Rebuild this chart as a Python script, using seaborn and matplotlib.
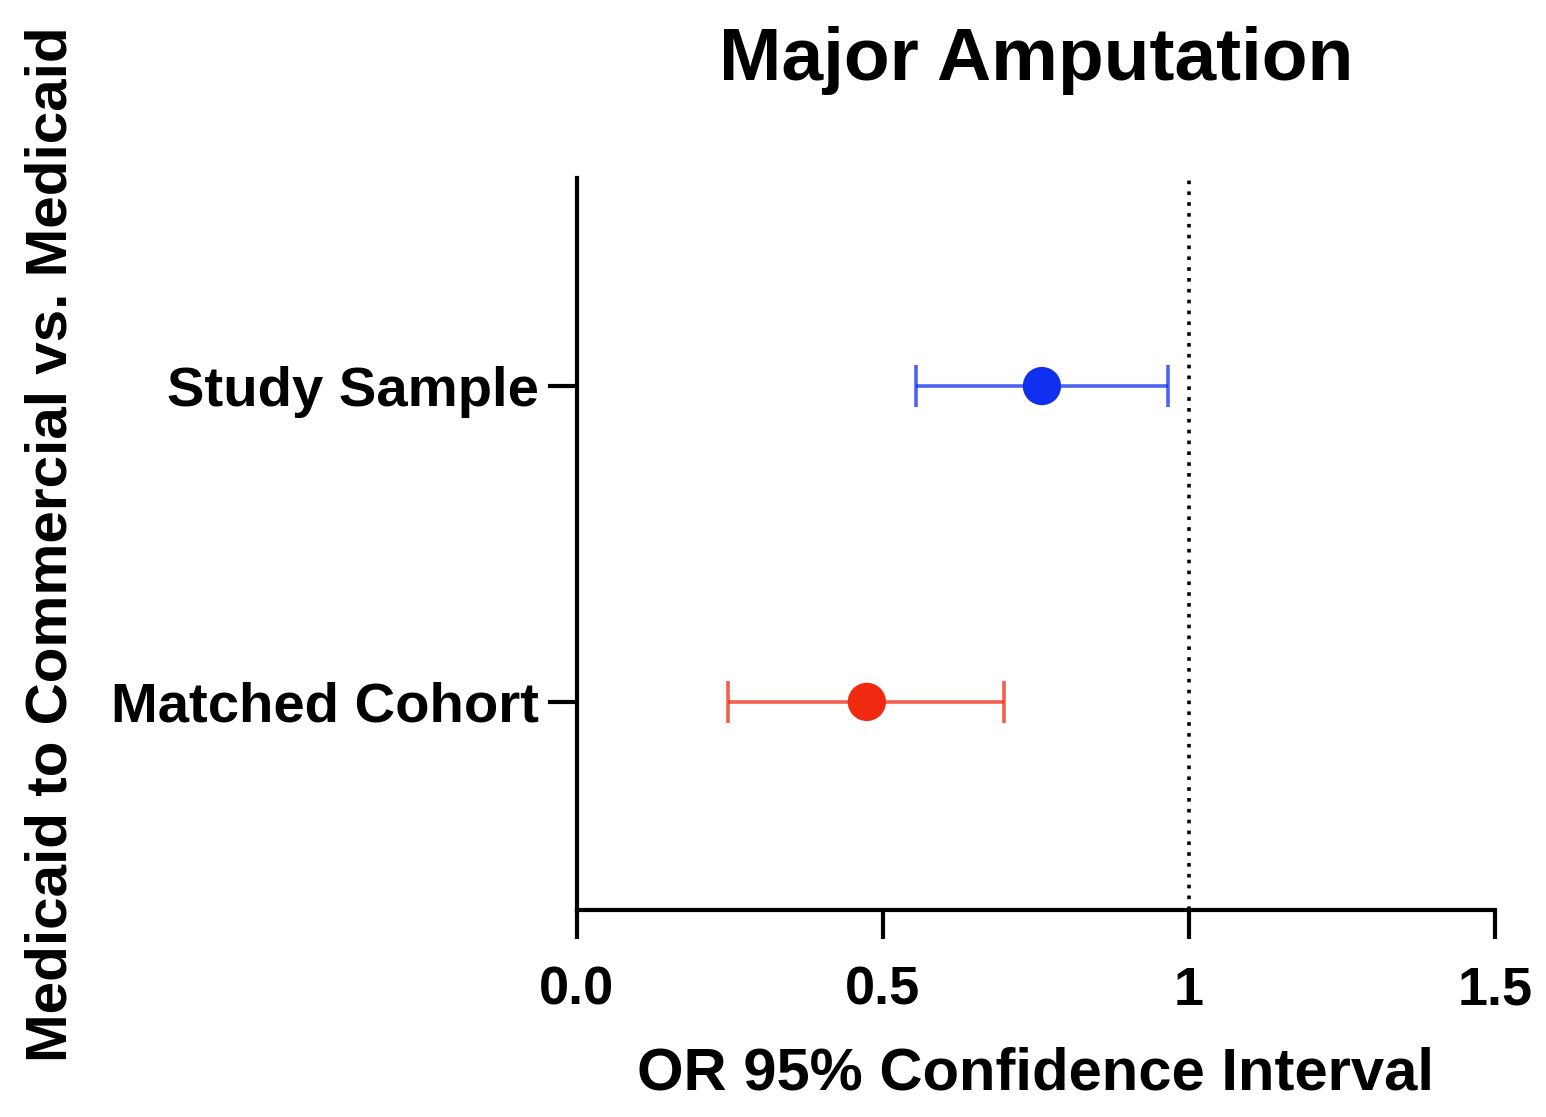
import pandas as pd
import seaborn as sns
import matplotlib.pyplot as plt

# Odds ratios with 95% CI
groups = ['Study Sample', 'Matched Cohort']
odds_ratio = [0.76, 0.474]
ci_low = [0.554, 0.247]
ci_high = [0.966, 0.698]
colors = ['#1030f0', '#f02a10']
ypos = [2, 1]

df = pd.DataFrame({'group': groups, 'OR': odds_ratio, 'lo': ci_low, 'hi': ci_high, 'y': ypos})

sns.set_style("ticks")
plt.rcParams['font.family'] = ['Liberation Sans', 'DejaVu Sans']
plt.rcParams['font.weight'] = 'bold'
for k in ['text.color', 'axes.labelcolor', 'xtick.color', 'ytick.color', 'axes.edgecolor']:
    plt.rcParams[k] = 'black'

fig = plt.figure(figsize=(15.46, 11.17), dpi=100)
ax = fig.add_axes([0.373, 0.185, 0.594, 0.656])

for i, row in df.iterrows():
    ax.errorbar(row['OR'], row['y'],
                xerr=[[row['OR'] - row['lo']], [row['hi'] - row['OR']]],
                fmt='none', ecolor=colors[i], elinewidth=2.6, capsize=15, capthick=2.6, alpha=0.75)

sns.scatterplot(data=df, x='OR', y='y', hue='group', palette=colors, s=760,
                edgecolor='none', legend=False, ax=ax, zorder=3)

# reference line at OR = 1
ax.axvline(1, color='black', linestyle=(0, (1, 2)), lw=2.6, zorder=1)

ax.set_xlim(0, 1.5)
ax.set_ylim(0.34, 2.66)
ax.set_xticks([0, 0.5, 1, 1.5])
ax.set_xticklabels(['0.0', '0.5', '1', '1.5'])
ax.set_yticks(df['y'])
ax.set_yticklabels(df['group'])

for s in ['top', 'right']:
    ax.spines[s].set_visible(False)
for s in ['left', 'bottom']:
    ax.spines[s].set_linewidth(3)
ax.tick_params(axis='both', width=3, length=21, labelsize=39)
ax.tick_params(axis='x', pad=19)
ax.tick_params(axis='y', labelsize=40.5, pad=6)

ax.set_xlabel('OR 95% Confidence Interval', fontsize=43, fontweight='bold', labelpad=22)
ax.set_ylabel('Medicaid to Commercial vs. Medicaid', fontsize=42, fontweight='bold')
ax.yaxis.set_label_coords(-0.543, 0.5)
ax.set_title('Major Amputation', fontsize=54, fontweight='bold', pad=70)

fig.savefig('out.png', dpi=100)
